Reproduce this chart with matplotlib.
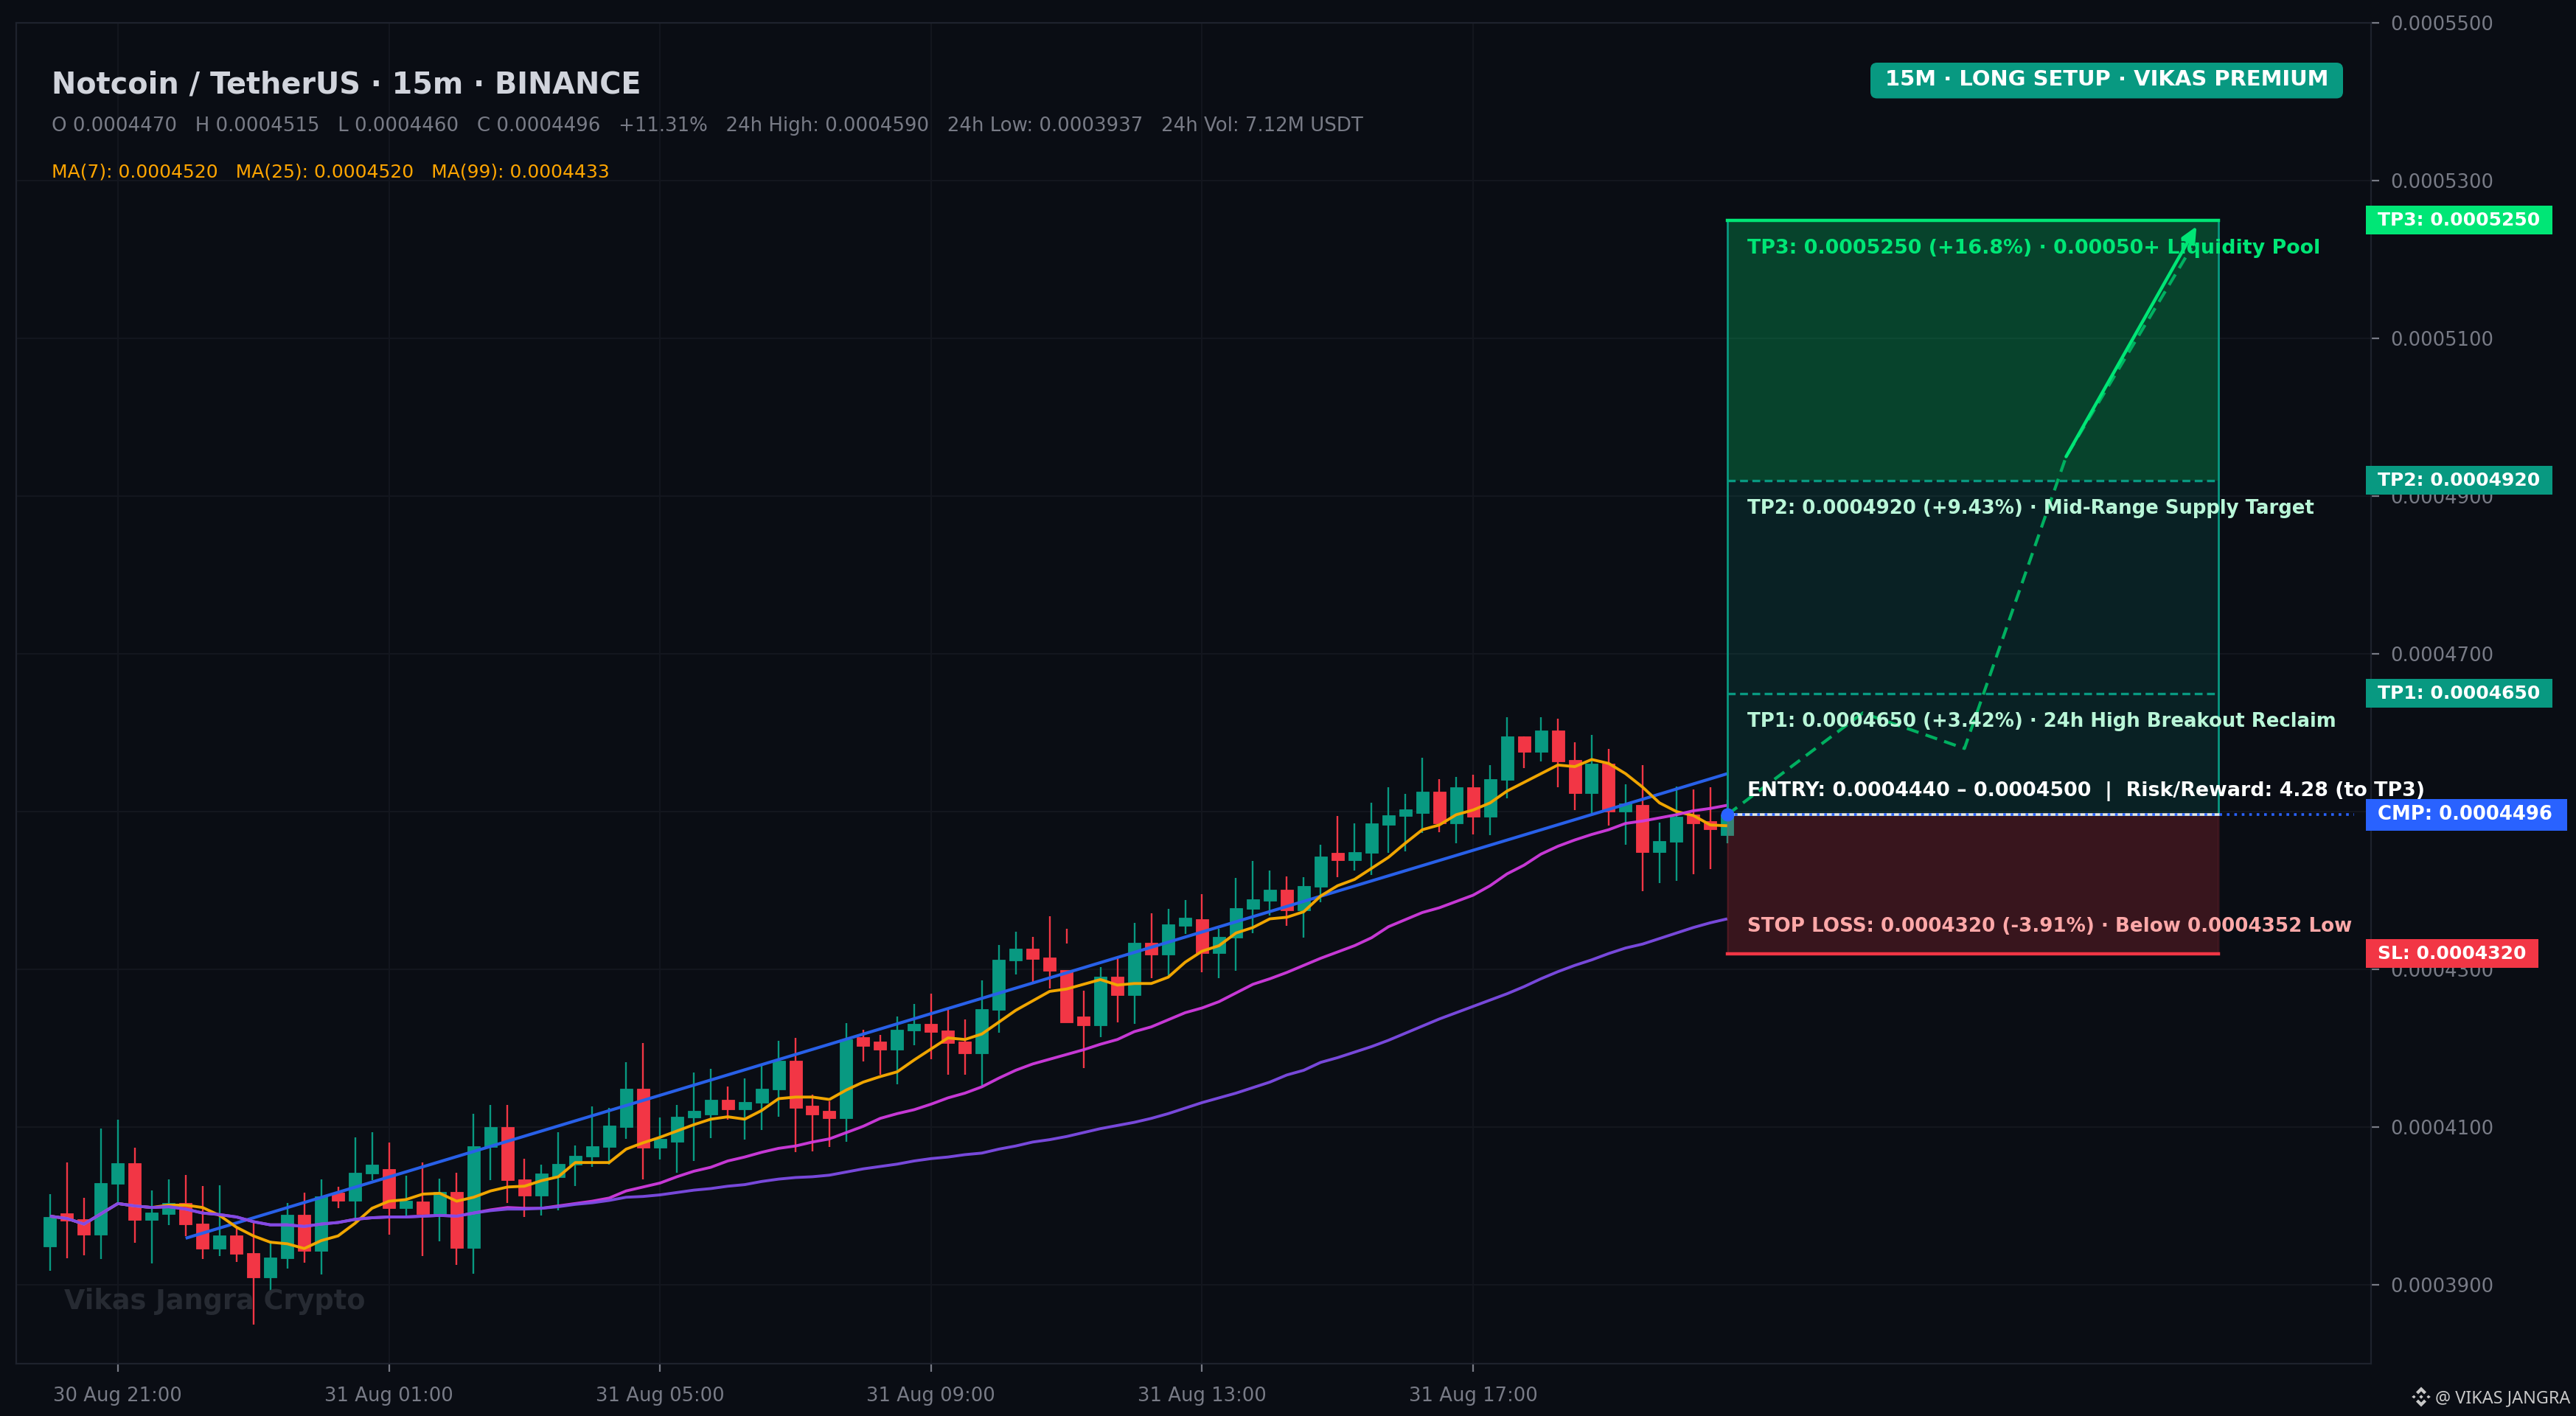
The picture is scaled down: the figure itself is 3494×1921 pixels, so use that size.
import numpy as np
import matplotlib
matplotlib.use("Agg")
import matplotlib.pyplot as plt
from matplotlib.patches import Rectangle, FancyBboxPatch, Polygon
from matplotlib.transforms import IdentityTransform

# Prices in units of 1e-7 USDT, one entry per 15 minute candle
opens = [3949,3991,3983,3964,4028,4054,3982,3990,4004,3978,3946,3963,3940,3909,3934,3989,3943,4017,4007,4041,
         4047,3997,4006,3990,4018,3947,4075,4100,4034,4013,4036,4052,4063,4075,4100,4149,4074,4081,4112,4116,
         4135,4122,4131,4148,4184,4127,4121,4111,4214,4208,4198,4222,4231,4222,4208,4193,4249,4311,4326,4315,
         4299,4240,4229,4291,4267,4334,4319,4355,4364,4321,4340,4377,4387,4401,4375,4405,4448,4438,4448,4483,
         4494,4498,4525,4485,4531,4493,4540,4595,4576,4603,4565,4523,4561,4500,4508,4449,4462,4496,4488,4470]
closes = [3986,3981,3964,4029,4054,3982,3992,4004,3977,3946,3963,3939,3909,3935,3989,3943,4012,4007,4042,4052,
          3997,4007,3990,4018,3947,4076,4100,4033,4013,4041,4053,4064,4076,4102,4149,4074,4085,4113,4121,4135,
          4122,4132,4149,4184,4124,4116,4111,4211,4203,4198,4223,4231,4221,4207,4193,4250,4312,4326,4313,4298,
          4233,4229,4291,4267,4334,4319,4357,4365,4321,4341,4378,4389,4401,4375,4406,4443,4438,4449,4485,4495,
          4503,4525,4485,4531,4493,4541,4595,4576,4603,4564,4523,4561,4500,4510,4449,4463,4493,4485,4478,4496]
highs = [4015,4055,4010,4098,4109,4074,4020,4034,4039,4025,4026,3974,3979,3956,4004,4017,4034,4024,4087,4093,
         4080,4038,4055,4035,4042,4117,4128,4128,4060,4052,4093,4077,4126,4124,4182,4207,4112,4128,4169,4174,
         4151,4162,4180,4209,4213,4141,4133,4232,4223,4217,4240,4256,4269,4249,4236,4286,4331,4348,4341,4367,
         4351,4273,4303,4314,4359,4371,4377,4388,4395,4351,4416,4437,4425,4418,4417,4458,4494,4485,4511,4531,
         4522,4568,4541,4544,4547,4559,4620,4595,4620,4618,4588,4597,4579,4535,4559,4486,4532,4528,4531,4515]
lows = [3918,3934,3937,3933,4005,3953,3927,3976,3962,3933,3936,3929,3850,3888,3921,3928,3913,3997,3980,4033,
        3964,3988,3936,3955,3925,3914,4033,4004,3986,3988,3994,4025,4050,4052,4085,4034,4059,4042,4057,4086,
        4109,4084,4096,4113,4068,4069,4075,4081,4183,4166,4154,4204,4186,4166,4166,4152,4220,4293,4284,4276,
        4333,4175,4214,4233,4231,4289,4292,4345,4296,4289,4298,4346,4368,4355,4340,4385,4417,4425,4420,4448,
        4450,4473,4474,4460,4471,4470,4517,4555,4564,4531,4502,4498,4482,4458,4399,4409,4412,4421,4427,4460]
ma7 = [3987,3984,3977,3990,4003,4000,3998,4001,4001,3998,3988,3973,3962,3954,3952,3946,3956,3962,3978,3997,
       4006,4008,4015,4016,4006,4011,4019,4024,4025,4032,4037,4055,4055,4055,4072,4080,4087,4095,4103,4110,
       4113,4110,4121,4136,4138,4138,4135,4147,4157,4164,4170,4185,4199,4213,4211,4218,4233,4248,4260,4272,
       4275,4281,4287,4280,4282,4282,4290,4309,4323,4330,4346,4353,4364,4366,4373,4393,4406,4414,4428,4442,
       4460,4477,4483,4496,4502,4511,4526,4537,4548,4559,4557,4566,4561,4548,4531,4511,4500,4495,4483,4482]
ma25 = [3987,3984,3977,3990,4003,4000,3998,3999,3996,3991,3989,3986,3980,3976,3976,3974,3977,3979,3983,3985,
        3986,3986,3987,3988,3987,3991,3995,3998,3997,3997,4000,4003,4006,4010,4019,4024,4029,4037,4044,4049,
        4057,4062,4068,4073,4076,4081,4085,4093,4101,4111,4117,4122,4129,4137,4143,4151,4162,4172,4180,4186,
        4192,4198,4205,4211,4221,4227,4236,4245,4251,4259,4270,4281,4288,4296,4305,4314,4322,4330,4340,4354,
        4363,4372,4378,4386,4394,4406,4421,4432,4446,4456,4464,4471,4477,4485,4488,4492,4496,4501,4504,4508]
ma99 = [3987,3984,3977,3990,4003,4000,3998,3999,3996,3991,3989,3986,3980,3976,3976,3974,3977,3979,3983,3985,
        3986,3986,3987,3988,3987,3991,3994,3996,3996,3997,3999,4002,4004,4007,4011,4012,4014,4017,4020,4022,
        4025,4027,4031,4034,4036,4037,4039,4043,4047,4050,4053,4057,4060,4062,4065,4067,4072,4076,4081,4084,
        4088,4093,4098,4102,4106,4111,4117,4124,4131,4137,4143,4150,4157,4166,4172,4182,4188,4195,4202,4210,
        4219,4228,4237,4245,4253,4261,4269,4278,4288,4297,4305,4312,4320,4327,4332,4339,4346,4353,4359,4364]
trend_x = [8, 99]
trend_y = [3959, 4548]
path_x = [99, 107, 113, 119, 126.4]
path_y = [4496, 4625, 4580, 4950, 5215]
arrow_x = [119, 126.7]
arrow_y = [4950, 5242]
tick_idx = [4, 20, 36, 52, 68, 84]
tick_labels = ["30 Aug 21:00", "31 Aug 01:00", "31 Aug 05:00", "31 Aug 09:00", "31 Aug 13:00", "31 Aug 17:00"]
price_ticks = [3900, 4100, 4300, 4500, 4700, 4900, 5100, 5300, 5500]
CMP, SL, TP1, TP2, TP3 = 4496, 4320, 4650, 4920, 5250

BG = "#0a0d14"; GREEN = "#089981"; RED = "#f23645"; BLUE = "#2962ff"; LIME = "#00e676"
GRID = "#14171f"; SPINE = "#1e222d"; GREY = "#787b86"

W, H, DPI = 3494, 1921, 200
U = 1e-7
plt.rcParams["font.family"] = ["DejaVu Sans"]
fig = plt.figure(figsize=(W / DPI, H / DPI), dpi=DPI, facecolor=BG)
ax = fig.add_axes([22 / W, 1 - 1850 / H, (3216 - 22) / W, (1850 - 31) / H], facecolor=BG)
ax.set_xlim(-2, 137)
ax.set_ylim(3800 * U, 5500 * U)

ax.grid(True, color=GRID, lw=0.7, zorder=0)
ax.set_axisbelow(True)
for s in ax.spines.values():
    s.set_color(SPINE); s.set_linewidth(0.8)
ax.yaxis.tick_right()
ax.set_yticks([p * U for p in price_ticks])
ax.set_yticklabels([f"{p * 1e-7:.7f}" for p in price_ticks])
ax.set_xticks(tick_idx)
ax.set_xticklabels(tick_labels)
ax.tick_params(axis="both", colors=GREY, labelsize=9.3, length=4, width=0.8, pad=5.3, labelcolor=GREY)
ax.tick_params(axis="x", pad=7)

# candles
for i, (o, c, h, l) in enumerate(zip(opens, closes, highs, lows)):
    col = GREEN if c >= o else RED
    ax.vlines(i, l * U, h * U, color=col, lw=0.85, zorder=2)
    ax.bar(i, abs(c - o) * U, bottom=min(o, c) * U, width=0.74, color=col, edgecolor=col, lw=0.3, zorder=3)

x = np.arange(len(closes))
ax.plot(trend_x, np.array(trend_y) * U, color="#2860e8", lw=1.5, zorder=4, solid_capstyle="butt")
ax.plot(x, np.array(ma7) * U, color="#f0a500", lw=1.4, zorder=5, solid_capstyle="butt")
ax.plot(x, np.array(ma25) * U, color="#d13be0", lw=1.4, zorder=5, solid_capstyle="butt", alpha=0.95)
ax.plot(x, np.array(ma99) * U, color="#7e4ce6", lw=1.4, zorder=5, solid_capstyle="butt", alpha=0.95)

# trade zones
X0, X1 = 99, 128
ax.add_patch(Rectangle((X0, CMP * U), X1 - X0, (TP2 - CMP) * U, fc=GREEN, alpha=0.15, lw=0, zorder=6))
ax.add_patch(Rectangle((X0, TP2 * U), X1 - X0, (TP3 - TP2) * U, fc=LIME, alpha=0.25, lw=0, zorder=6))
ax.add_patch(Rectangle((X0, SL * U), X1 - X0, (CMP - SL) * U, fc=RED, alpha=0.2, lw=0, zorder=6))
ax.add_patch(Rectangle((X0, SL * U), X1 - X0, (CMP - SL) * U, fc="none", ec=RED, alpha=0.15, lw=0.9, zorder=6))
ax.add_patch(Rectangle((X0, CMP * U), X1 - X0, (TP3 - CMP) * U, fc="none", ec=GREEN, lw=1.0, zorder=7))
ax.plot([X0, X1], [TP3 * U] * 2, color=LIME, lw=1.6, zorder=8, solid_capstyle="projecting")
ax.plot([X0, X1], [SL * U] * 2, color=RED, lw=1.6, zorder=8, solid_capstyle="projecting")
ax.plot([X0, X1], [TP2 * U] * 2, color=GREEN, lw=1.2, ls=(0, (3.2, 1.8)), zorder=8)
ax.plot([X0, X1], [TP1 * U] * 2, color=GREEN, lw=1.2, ls=(0, (3.2, 1.8)), zorder=8)

ax.plot([X0, X1], [CMP * U] * 2, color="#e8e8e8", lw=1.3, zorder=8)
ax.plot([X0, 136], [CMP * U] * 2, color=BLUE, lw=1.3, ls=(0, (1, 1.8)), zorder=9)
ax.plot(path_x, np.array(path_y) * U, color="#00b060", lw=1.5, ls=(0, (4, 2.4)), zorder=9)
ax.annotate("", xy=(arrow_x[1], arrow_y[1] * U), xytext=(arrow_x[0], arrow_y[0] * U),
            arrowprops=dict(arrowstyle="-|>,head_length=0.65,head_width=0.3", color=LIME, lw=1.6,
                            shrinkA=0, shrinkB=0), zorder=10)
ax.plot([X0], [CMP * U], "o", color=BLUE, ms=6.5, mew=0, zorder=10)

# in-chart notes
note_x = 100.2
notes = [(5214, "TP3: 0.0005250 (+16.8%) · 0.00050+ Liquidity Pool", LIME, 9.7),
         (4884, "TP2: 0.0004920 (+9.43%) · Mid-Range Supply Target", "#b9f6d8", 9.38),
         (4614, "TP1: 0.0004650 (+3.42%) · 24h High Breakout Reclaim", "#b9f6d8", 9.36),
         (4526, "ENTRY: 0.0004440 – 0.0004500  |  Risk/Reward: 4.28 (to TP3)", "#ffffff", 9.67),
         (4354, "STOP LOSS: 0.0004320 (-3.91%) · Below 0.0004352 Low", "#ffa8a8", 9.4)]
for py, txt, col, fs in notes:
    ax.text(note_x, py * U, txt, color=col, fontsize=fs, fontweight="bold", va="center", ha="left", zorder=12)

# right-hand price tags
tags = [(TP3, "TP3: 0.0005250", LIME, 11.0, 39),
        (TP2, "TP2: 0.0004920", GREEN, 11.0, 39),
        (TP1, "TP1: 0.0004650", GREEN, 11.0, 39),
        (CMP, "CMP: 0.0004496", BLUE, 11.87, 43),
        (SL, "SL: 0.0004320", RED, 10.17, 39)]
for val, txt, col, w, hpx in tags:
    hu = hpx / 1.07
    ax.add_patch(Rectangle((136.7, (val - hu / 2) * U), w, hu * U, fc=col, lw=0, zorder=13, clip_on=False))
    ax.text(137.4, val * U, txt, color="white", fontsize=9.33 if txt.startswith("CMP") else 9.0,
            fontweight="bold", va="center", ha="left", zorder=14, clip_on=False)

# headers, in pixel positions
def fx(px): return px / W
def fy(py): return 1 - py / H
fig.text(fx(70), fy(116), "Notcoin / TetherUS · 15m · BINANCE", color="#d1d4dc", fontsize=14.3,
         fontweight="bold", va="center", ha="left")
fig.text(fx(70), fy(171.5), "O 0.0004470   H 0.0004515   L 0.0004460   C 0.0004496   +11.31%   "
         "24h High: 0.0004590   24h Low: 0.0003937   24h Vol: 7.12M USDT",
         color=GREY, fontsize=9.38, va="center", ha="left")
fig.text(fx(70), fy(234), "MA(7): 0.0004520   MA(25): 0.0004520   MA(99): 0.0004433",
         color="#ffa500", fontsize=9.02, va="center", ha="left")
fig.add_artist(FancyBboxPatch((2537, H - 133.5), 641, 48.5, boxstyle="round,pad=0,rounding_size=9",
                              fc=GREEN, ec="none", transform=IdentityTransform()))
fig.text(fx(2857.5), fy(108), "15M · LONG SETUP · VIKAS PREMIUM", color="white", fontsize=10.45,
         fontweight="bold", va="center", ha="center")
fig.text(fx(87), fy(1766), "Vikas Jangra Crypto", color="#262a32", fontsize=13.2,
         fontweight="bold", va="center", ha="left", zorder=20)

# footer mark
fig.text(fx(3303), fy(1897), "@ VIKAS JANGRA", color="#c8c8c8", fontsize=8.45, family="Noto Sans",
         va="center", ha="left")
cx, cy, r = 3284, H - 1895, 13.5
polys = [[(0, 1), (.52, .48), (.3, .26), (0, .56), (-.3, .26), (-.52, .48)],
         [(0, -1), (.52, -.48), (.3, -.26), (0, -.56), (-.3, -.26), (-.52, -.48)],
         [(0, .2), (.2, 0), (0, -.2), (-.2, 0)],
         [(.72, .17), (.95, 0), (.72, -.17), (.55, 0)],
         [(-.72, .17), (-.95, 0), (-.72, -.17), (-.55, 0)]]
for p in polys:
    fig.add_artist(Polygon([(cx + a * r, cy + b * r) for a, b in p], closed=True, fc="#c8c8c8", ec="none",
                           transform=IdentityTransform()))

fig.savefig("out.png", dpi=DPI, facecolor=BG)
